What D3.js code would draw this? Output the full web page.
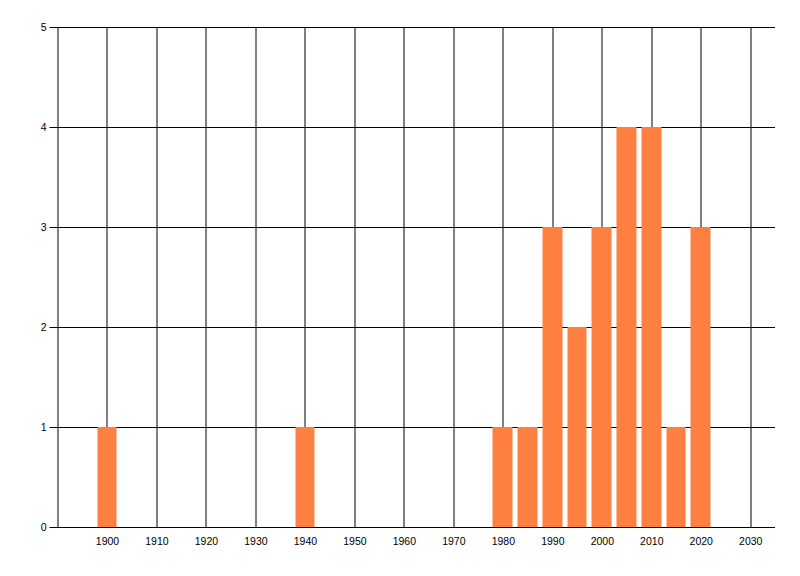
<!DOCTYPE html>
<html>
<head>
<meta charset="utf-8">
<script src="https://cdn.jsdelivr.net/npm/d3@7"></script>
<style>
	body { margin: 0; background: #fff; }
	text { font-family: 'Liberation Sans', Arial, sans-serif; font-size: 10.5px; fill: #000; }
</style>
</head>
<body>
<div id="chart"></div>
<script>
const years = [1900, 1940, 1980, 1985, 1990, 1995, 2000, 2005, 2010, 2015, 2020];
const counts = [1, 1, 1, 1, 3, 2, 3, 4, 4, 1, 3];
const xTicks = [1900, 1910, 1920, 1930, 1940, 1950, 1960, 1970, 1980, 1990, 2000, 2010, 2020, 2030];
const yTicks = [0, 1, 2, 3, 4, 5];

function drawChart() {
	const margin = { top: 27, right: 25, bottom: 49, left: 57.5 };
	const width = 800 - margin.left - margin.right;
	const height = 576 - margin.top - margin.bottom;

	const xScale = d3.scaleLinear().domain([1890, 2035]).range([0, width]);
	const yScale = d3.scaleLinear().domain([0, 5]).range([height, 0]);

	const svg = d3
		.select('#chart')
		.append('svg')
		.attr('width', 800)
		.attr('height', 576)
		.append('g')
		.attr('transform', `translate(${margin.left}, ${margin.top})`);

	// grid
	svg.selectAll('.vgrid')
		.data(xTicks)
		.enter()
		.append('line')
		.attr('x1', (d) => Math.round(xScale(d)) + 0.5)
		.attr('x2', (d) => Math.round(xScale(d)) + 0.5)
		.attr('y1', 0)
		.attr('y2', height)
		.attr('stroke', '#000');

	svg.selectAll('.hgrid')
		.data(yTicks)
		.enter()
		.append('line')
		.attr('x1', -8)
		.attr('x2', width)
		.attr('y1', (d) => Math.round(yScale(d)) + 0.5)
		.attr('y2', (d) => Math.round(yScale(d)) + 0.5)
		.attr('stroke', '#000');

	svg.append('line')
		.attr('x1', 0.5)
		.attr('x2', 0.5)
		.attr('y1', 0)
		.attr('y2', height)
		.attr('stroke', '#000');

	// bars, 4 years wide, covering the gridline at their top
	svg.selectAll('.bar')
		.data(years)
		.enter()
		.append('rect')
		.attr('x', (d) => Math.round(xScale(d - 2)))
		.attr('width', (d) => Math.round(xScale(d + 2)) - Math.round(xScale(d - 2)))
		.attr('y', (d, i) => Math.round(yScale(counts[i])))
		.attr('height', (d, i) => Math.round(yScale(0)) - Math.round(yScale(counts[i])))
		.attr('fill', '#ff7f40');

	// labels
	svg.selectAll('.xlab')
		.data(xTicks)
		.enter()
		.append('text')
		.attr('x', (d) => xScale(d) + 0.5)
		.attr('y', height + 14)
		.attr('dy', '0.35em')
		.attr('text-anchor', 'middle')
		.text((d) => d);

	svg.selectAll('.ylab')
		.data(yTicks)
		.enter()
		.append('text')
		.attr('x', -11)
		.attr('y', (d) => yScale(d))
		.attr('dy', '0.35em')
		.attr('text-anchor', 'end')
		.text((d) => d);
}

drawChart();
</script>
</body>
</html>
